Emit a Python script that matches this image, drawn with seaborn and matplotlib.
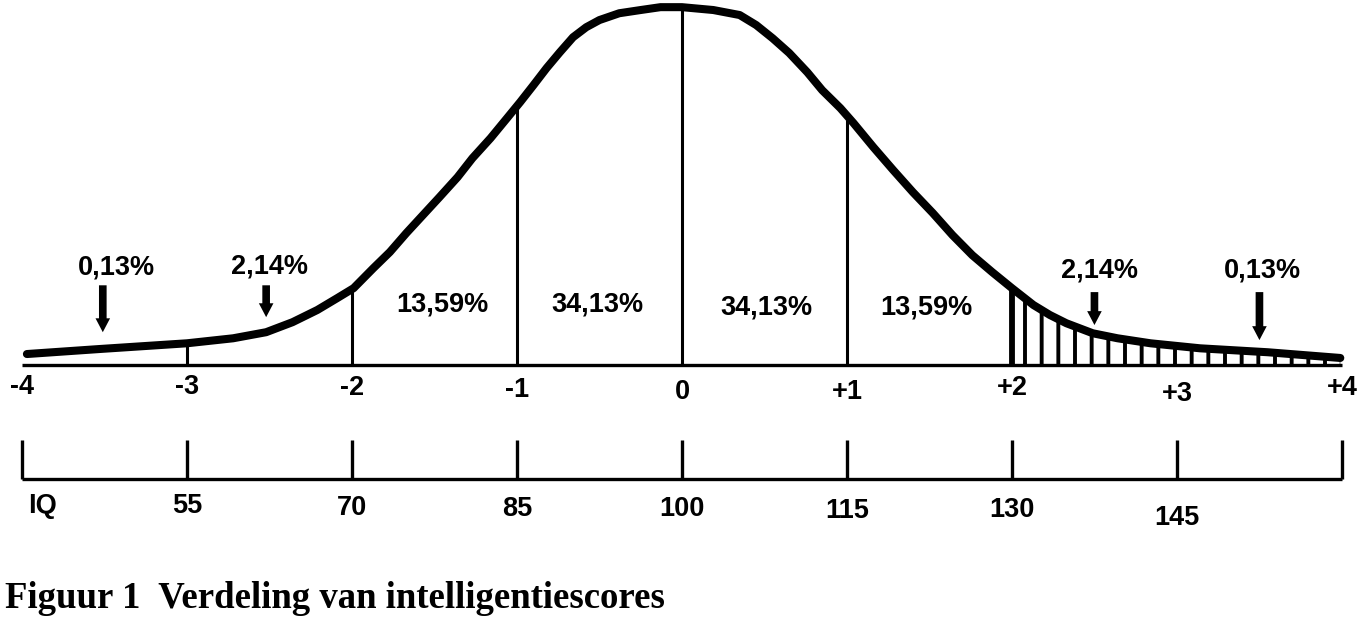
"""Normal distribution of IQ scores, redrawn from the scanned figure."""

import matplotlib
matplotlib.use("Agg")
import matplotlib.pyplot as plt
import pandas as pd
import seaborn as sns

# curve: z-score and height above the baseline (peak = 100)
z_curve = [-3.97, -3.53, -3.00, -2.72, -2.52, -2.36, -2.21, -2.09, -1.99, -1.87,
           -1.77, -1.67, -1.57, -1.47, -1.36, -1.27, -1.16, -1.06, -0.98, -0.90,
           -0.82, -0.74, -0.66, -0.58, -0.50, -0.38, -0.25, -0.13, 0.00, 0.19,
           0.35, 0.45, 0.55, 0.65, 0.76, 0.85, 0.96, 1.04, 1.16, 1.28,
           1.40, 1.52, 1.64, 1.76, 1.88, 2.00, 2.13, 2.23, 2.33, 2.49,
           2.64, 2.84, 3.14, 3.55, 3.99]
h_curve = [3.1, 4.5, 6.1, 7.5, 9.2, 12.0, 15.4, 18.7, 21.5, 27.1,
           31.6, 36.9, 41.9, 46.9, 52.5, 57.8, 63.4, 69.0, 73.5, 78.2,
           83.0, 87.4, 91.6, 94.4, 96.4, 98.3, 99.2, 100.0, 100.0, 99.2,
           97.8, 95.0, 91.3, 87.2, 81.8, 76.8, 71.8, 67.6, 60.9, 54.5,
           48.3, 42.5, 36.3, 30.7, 26.0, 21.5, 16.8, 14.0, 11.7, 8.9,
           7.5, 6.1, 4.7, 3.6, 2.0]

# vertical dividers under the curve
divider_z = [-3, -2, -1, 0, 1]
divider_h = [6.1, 21.5, 73.2, 100.0, 68.4]
hatch_start_z = 2
hatch_start_h = 21.5

z_ticks = [-4, -3, -2, -1, 0, 1, 2, 3, 4]
z_labels = ["-4", "-3", "-2", "-1", "0", "+1", "+2", "+3", "+4"]
z_label_y = [-6.1, -6.1, -6.4, -7.0, -7.5, -7.5, -6.4, -8.0, -6.4]

# band percentages inside the curve
band_z = [-1.45, -0.51, 0.51, 1.48]
band_y = [17.0, 16.8, 16.2, 16.2]
band_labels = ["13,59%", "34,13%", "34,13%", "13,59%"]

# tail percentages with arrows
tail_labels = ["0,13%", "2,14%", "2,14%", "0,13%"]
tail_text_z = [-3.43, -2.50, 2.53, 3.52]
tail_text_y = [27.4, 27.6, 26.3, 26.5]
arrow_z = [-3.51, -2.52, 2.50, 3.50]
arrow_top = [22.3, 22.3, 20.4, 20.4]
arrow_tip = [9.2, 13.4, 11.2, 7.0]

iq_z = [-3, -2, -1, 0, 1, 2, 3, 4]
iq_labels = ["55", "70", "85", "100", "115", "130", "145", ""]
iq_label_y = [-39.4, -39.8, -40.2, -40.2, -40.8, -40.5, -42.8, -40.0]

caption = "Figuur 1  Verdeling van intelligentiescores"

sns.set_theme(style="white")
plt.rcParams["hatch.linewidth"] = 2.8
plt.rcParams["hatch.color"] = "black"

fig = plt.figure(figsize=(13.7, 6.2), dpi=100)
ax = fig.add_axes([0, 0, 1, 1])
ax.set_xlim(-4.133, 4.170)
ax.set_ylim(-71.2, 102.0)
ax.axis("off")

curve = pd.DataFrame({"z": z_curve, "h": h_curve})
tail = curve[curve["z"] >= hatch_start_z]

# hatched right tail
ax.fill_between(tail["z"], 0, tail["h"], facecolor="none", edgecolor="black",
                hatch="|", linewidth=0)

# baseline and dividers
ax.hlines(0, -4, 4, color="black", lw=2.4)
ax.vlines(divider_z, 0, divider_h, color="black", lw=2.2)
ax.vlines(hatch_start_z, 0, hatch_start_h, color="black", lw=4.2)

sns.lineplot(data=curve, x="z", y="h", sort=False, color="black", lw=5.8,
             ax=ax, solid_capstyle="round", solid_joinstyle="round")
ax.set_xlabel("")
ax.set_ylabel("")

bold = dict(family="Liberation Sans", weight="bold", fontsize=19.5, color="black")

for z, lab, y in zip(z_ticks, z_labels, z_label_y):
    ax.text(z, y, lab, ha="center", va="center", **bold)

for z, y, lab in zip(band_z, band_y, band_labels):
    ax.text(z, y, lab, ha="center", va="center", **bold)

for lab, tz, ty, az, top, tip in zip(tail_labels, tail_text_z, tail_text_y,
                                     arrow_z, arrow_top, arrow_tip):
    ax.text(tz, ty, lab, ha="center", va="center", **bold)
    ax.annotate("", xy=(az, tip), xytext=(az, top),
                arrowprops=dict(arrowstyle="simple,head_length=1.0,head_width=1.05,tail_width=0.55",
                                fc="black", ec="none", lw=0, shrinkA=0, shrinkB=0,
                                mutation_scale=10))

# IQ scale underneath
ax.hlines(-31.8, -4, 4, color="black", lw=2.4)
ax.vlines([-4] + iq_z, -20.9, -31.8, color="black", lw=2.4)
ax.text(-3.96, -39.4, "IQ", ha="left", va="center", **bold)
for z, lab, y in zip(iq_z, iq_labels, iq_label_y):
    ax.text(z, y, lab, ha="center", va="center", **bold)

ax.text(-4.103, -65.1, caption, ha="left", va="center",
        family="Liberation Serif", weight="bold", fontsize=26.5, color="black")

fig.savefig("out.png", dpi=100)
